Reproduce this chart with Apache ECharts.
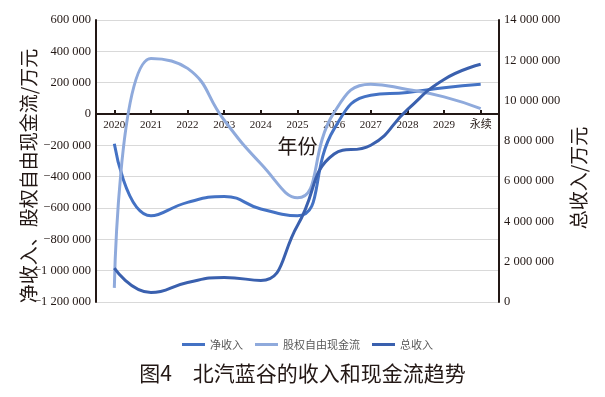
<!DOCTYPE html>
<html>
<head>
<meta charset="utf-8">
<script src="https://cdn.jsdelivr.net/npm/echarts@6/dist/echarts.min.js"></script>
<style>
html,body{margin:0;padding:0;background:#fff;}
#c{width:605px;height:397px;}
</style>
</head>
<body>
<div id="c"></div>
<script>
var categories = ['2020','2021','2022','2023','2024','2025','2026','2027','2028','2029','永续'];
var netIncome = [-190000, -650000, -564000, -527000, -606000, -650000, -95000, 120000, 137000, 168000, 190000];
var fcfe = [-1110000, 355000, 291000, -40000, -318000, -535000, 10000, 190000, 156000, 109000, 34000];
var totalRevenue = [1680000, 470000, 970000, 1220000, 1070000, 3800000, 7350000, 7780000, 9550000, 11050000, 11800000];
var seriesNames = ['净收入', '股权自由现金流', '总收入'];
var leftTicks = {min: -1200000, max: 600000, interval: 200000};
var rightTicks = {min: 0, max: 14000000, interval: 2000000};

function fmt(v){
  var neg = v < 0;
  var s = String(Math.abs(Math.round(v)));
  s = s.replace(/\B(?=(\d{3})+(?!\d))/g, ' ');
  return (neg ? '\u2212' : '') + s;
}

var dark = '#231815';
var serif = '"Liberation Serif", "Noto Sans CJK SC", serif';
var cjk = '"Noto Sans CJK SC", sans-serif';

// zero line position of the left axis inside the plot (fraction from top)
var plotTop = 20, plotBottom = 302, H = 397;
var zeroY = plotTop + (plotBottom - plotTop) * (leftTicks.max - 0) / (leftTicks.max - leftTicks.min);

var chart = echarts.init(document.getElementById('c'), null, {renderer:'canvas'});
chart.setOption({
  animation: false,
  backgroundColor: '#ffffff',
  title: {
    text: '图4\u3000北汽蓝谷的收入和现金流趋势',
    left: 'center',
    top: 363,
    padding: 0,
    textStyle: {fontFamily: cjk, fontSize: 21, fontWeight: 'normal', color: '#231815'}
  },
  legend: {
    data: seriesNames,
    left: 177,
    top: 334,
    icon: 'rect',
    itemWidth: 23,
    itemHeight: 3,
    itemGap: 12,
    textStyle: {fontFamily: cjk, fontSize: 11, color: '#595959'}
  },
  grid: [
    {left: 96, right: 106, top: plotTop, bottom: H - plotBottom, containLabel: false, outerBoundsMode: 'none'},
    {left: 96, right: 106, top: plotTop, bottom: H - zeroY, containLabel: false, outerBoundsMode: 'none'}
  ],
  xAxis: [
    {
      type: 'category',
      gridIndex: 0,
      data: categories,
      boundaryGap: true,
      axisLine: {show: false},
      axisTick: {show: false},
      axisLabel: {show: false},
      splitLine: {show: false}
    },
    {
      type: 'category',
      gridIndex: 1,
      data: categories,
      boundaryGap: true,
      position: 'bottom',
      name: '年份',
      nameLocation: 'middle',
      nameGap: 22,
      nameMoveOverlap: false,
      nameTextStyle: {fontFamily: cjk, fontSize: 20, color: dark},
      axisLine: {show: true, onZero: false, lineStyle: {color: dark, width: 2}},
      axisTick: {show: true, inside: true, length: 4, alignWithLabel: true, lineStyle: {color: dark, width: 2}},
      axisLabel: {interval: 0, margin: 6, fontFamily: serif, fontSize: 11, color: dark},
      splitLine: {show: false}
    }
  ],
  yAxis: [
    {
      type: 'value',
      gridIndex: 0,
      position: 'left',
      min: leftTicks.min, max: leftTicks.max, interval: leftTicks.interval,
      name: '净收入、股权自由现金流/万元',
      nameLocation: 'middle',
      nameRotate: 90,
      nameGap: 58,
      nameMoveOverlap: false,
      nameTextStyle: {fontFamily: cjk, fontSize: 19, color: dark, padding: [0, 30, 0, 0]},
      axisLine: {show: true, onZero: false, lineStyle: {color: dark, width: 2}},
      axisTick: {show: false},
      axisLabel: {formatter: fmt, margin: 5, fontFamily: serif, fontSize: 12.5, color: dark},
      splitLine: {show: true, lineStyle: {color: '#d9d9d9', width: 1}}
    },
    {
      type: 'value',
      gridIndex: 0,
      position: 'right',
      min: rightTicks.min, max: rightTicks.max, interval: rightTicks.interval,
      name: '总收入/万元',
      nameLocation: 'middle',
      nameRotate: 90,
      nameGap: 70,
      nameMoveOverlap: false,
      nameTextStyle: {fontFamily: cjk, fontSize: 19, color: dark, padding: [0, 34, 0, 0]},
      axisLine: {show: true, onZero: false, lineStyle: {color: dark, width: 2}},
      axisTick: {show: false},
      axisLabel: {formatter: fmt, margin: 5, fontFamily: serif, fontSize: 12.5, color: dark},
      splitLine: {show: false}
    },
    {
      type: 'value',
      gridIndex: 1,
      show: false,
      min: 0, max: 1
    }
  ],
  series: [
    {
      name: seriesNames[0], type: 'line', xAxisIndex: 0, yAxisIndex: 0, data: netIncome,
      smooth: 0.5, symbol: 'none', color: '#4472C4',
      lineStyle: {width: 3, color: '#4472C4'}
    },
    {
      name: seriesNames[1], type: 'line', xAxisIndex: 0, yAxisIndex: 0, data: fcfe,
      smooth: 0.5, symbol: 'none', color: '#8FAADC',
      lineStyle: {width: 3, color: '#8FAADC'}
    },
    {
      name: seriesNames[2], type: 'line', xAxisIndex: 0, yAxisIndex: 1, data: totalRevenue,
      smooth: 0.5, symbol: 'none', color: '#3A60AE',
      lineStyle: {width: 3, color: '#3A60AE'}
    }
  ]
});
</script>
</body>
</html>
